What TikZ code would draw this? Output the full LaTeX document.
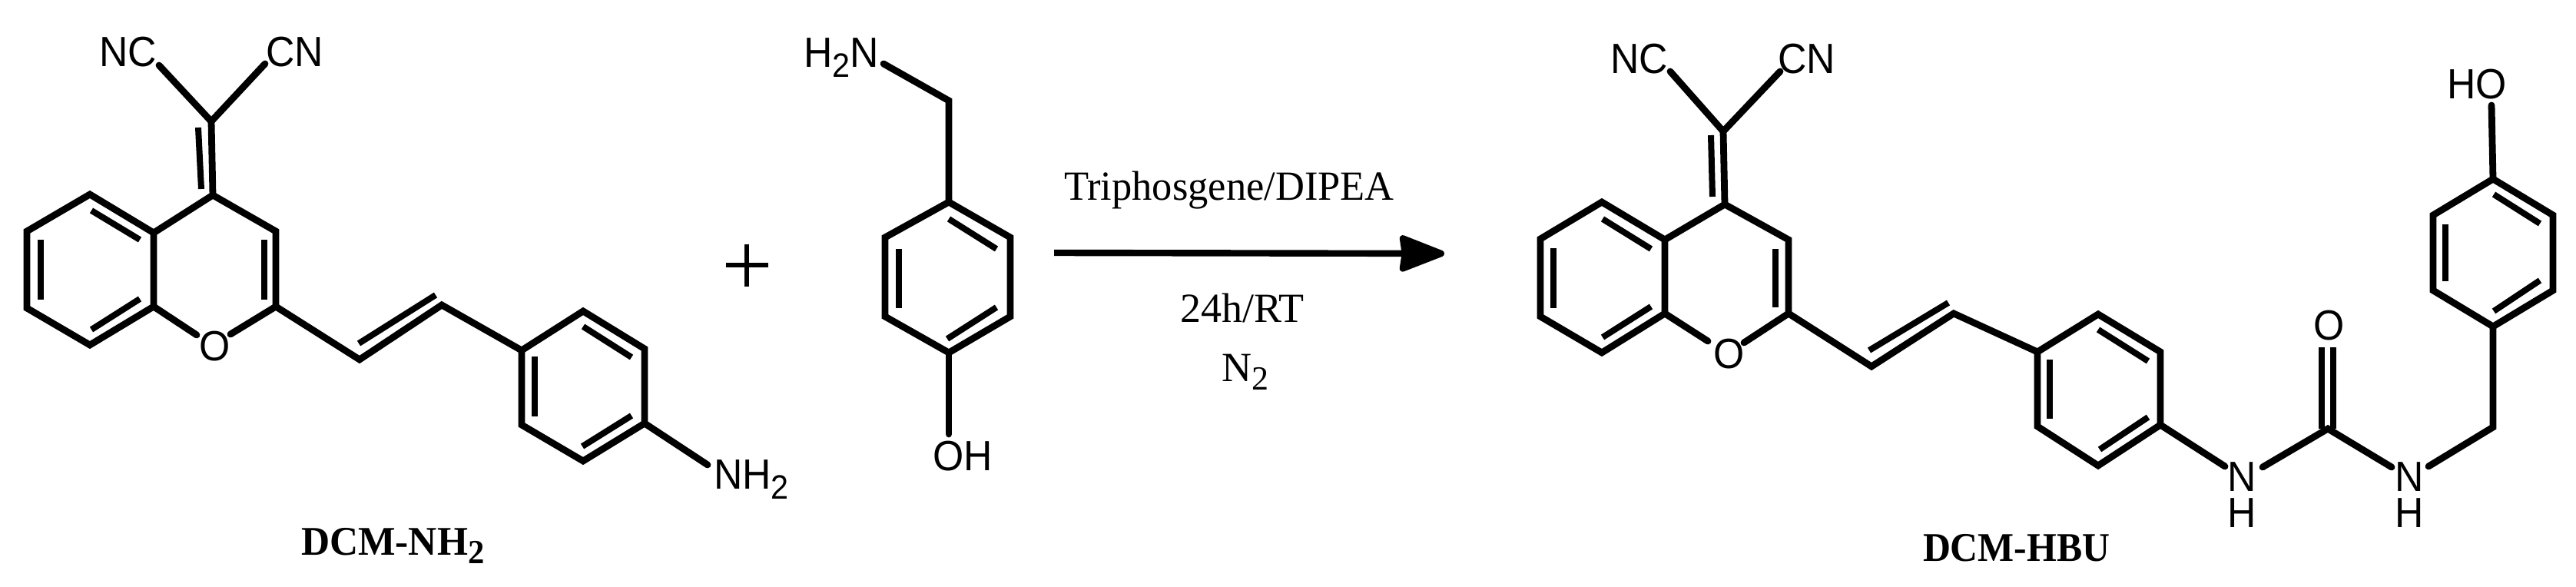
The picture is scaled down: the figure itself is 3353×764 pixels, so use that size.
\documentclass[tikz,border=0pt]{standalone}
\usepackage{fontspec}
\usepackage{graphicx}
\usetikzlibrary{arrows.meta}
\setmainfont{Liberation Serif}
\newfontfamily\labfont{Liberation Sans}
\newcommand\sanstext[1]{\scalebox{.94}[1]{\labfont\fontsize{27.5}{30}\selectfont #1}}
\newcommand\sanssub[1]{\raisebox{-6.5pt}{\scalebox{.94}[1]{\labfont\fontsize{22}{24}\selectfont #1}}}
\newcommand\serifsub[1]{\raisebox{-5.5pt}{\fontsize{22}{24}\selectfont #1}}
\tikzset{
  x=.5pt,y=-.5pt,
  bond/.style={line width=4.4pt,line join=miter,miter limit=10,line cap=round},
  inner bond/.style={line width=4pt,line cap=butt},
  atom/.style={anchor=base west,inner sep=0pt,outer sep=0pt},
  caption/.style={anchor=base west,inner sep=0pt,outer sep=0pt,font=\fontsize{26.5}{30}\selectfont\bfseries},
  cond/.style={anchor=base west,inner sep=0pt,outer sep=0pt,font=\fontsize{27}{30}\selectfont},
}
\begin{document}
\begin{tikzpicture}
\useasboundingbox (0,0) rectangle (3353,764);
\fill[white] (0,0) rectangle (3353,764);

% ---------- left molecule: DCM-NH2
\foreach \n/\x/\y in {
  a1/117/253,a2/200/303,a3/200/399,a4/117/449,a5/35/401,a6/35/301,
  c4/277/254,c3/359/301,c2/359/399,cx/275/158,
  oa/256/436,ob/300/435,
  v1/468/468,v2/575/397,
  b1/679/456,b2/759/405,b3/839/454,b4/839/551,b5/759/600,b6/679/553,
  ncl/207/85,ncr/345/83,nh/921/605,
  ia1/119/274,ia2/182/312,ia3/53/312,ia4/53/390,ia5/119/429,ia6/182/389,
  ic1/344/312,ic2/344/390,ix1/258/166,ix2/262/246,
  iv1/467/447,iv2/567/384,
  ib1/696/464,ib2/696/542,ib3/759/425,ib4/822/465,ib5/822/541,ib6/758/581
}{\coordinate (\n) at (\x,\y);}
\draw[bond] (a1)--(a2)--(a3)--(a4)--(a5)--(a6)--cycle;
\draw[bond] (a2)--(c4)--(c3)--(c2)--(ob);
\draw[bond] (a3)--(oa);
\draw[bond] (c4)--(cx);
\draw[bond] (ncl)--(cx)--(ncr);
\draw[bond] (c2)--(v1)--(v2)--(b1);
\draw[bond] (b1)--(b2)--(b3)--(b4)--(b5)--(b6)--cycle;
\draw[bond] (b4)--(nh);
\foreach \p/\q in {ia1/ia2,ia3/ia4,ia5/ia6,ic1/ic2,ix1/ix2,iv1/iv2,ib1/ib2,ib3/ib4,ib5/ib6}
  \draw[inner bond] (\p)--(\q);
\node[atom] (lNC) at (129,87) {\sanstext{NC}};
\node[atom] (lCN) at (346,87) {\sanstext{CN}};
\node[atom] (lO) at (259,470) {\sanstext{O}};
\node[atom] (lNH) at (929,636) {\sanstext{NH}\sanssub{2}};
\node[caption] (capA) at (392,722) {\scalebox{.97}[1]{DCM-NH\serifsub{\bfseries 2}}};

% plus
\coordinate (pl) at (945,345); \coordinate (pr) at (1000,345);
\coordinate (pt) at (972,318); \coordinate (pb) at (972,373);
\draw[line width=3.4pt] (pl)--(pr);
\draw[line width=2.8pt] (pt)--(pb);

% ---------- middle molecule
\foreach \n/\x/\y in {
  m1/1235/263,m2/1315/309,m3/1315/412,m4/1235/459,m5/1152/412,m6/1152/309,
  mc/1235/131,mn/1150/83,mo/1235/565,
  im1/1235/285,im2/1297/324,im3/1170/324,im4/1170/401,im5/1297/400,im6/1233/441
}{\coordinate (\n) at (\x,\y);}
\draw[bond] (m1)--(m2)--(m3)--(m4)--(m5)--(m6)--cycle;
\draw[bond] (mn)--(mc)--(m1);
\draw[bond] (m4)--(mo);
\foreach \p/\q in {im1/im2,im3/im4,im5/im6}
  \draw[inner bond] (\p)--(\q);
\node[atom] (mNH) at (1046,88) {\sanstext{H}\sanssub{2}\sanstext{N}};
\node[atom] (mOH) at (1214,612) {\sanstext{OH}};

% ---------- arrow and conditions
\coordinate (as) at (1372,329); \coordinate (ae) at (1880,330);
\draw[line width=4.2pt,-{Stealth[length=33pt,width=25pt,inset=1.5pt,round]}] (as)--(ae);
\node[cond] (t1) at (1385,261) {\scalebox{.972}[1]{Triphosgene/DIPEA}};
\node[cond] (t2) at (1536,420) {24h/RT};
\node[cond] (t3) at (1590,497) {N\serifsub{2}};

% ---------- right molecule: DCM-HBU
\foreach \n/\x/\y in {
  A1/2085/263,A2/2167/312,A3/2167/408,A4/2085/459,A5/2005/412,A6/2005/311,
  C4/2245/266,C3/2328/312,C2/2328/408,CX/2243/171,
  OA/2223/444,OB/2270/446,
  V1/2436/477,V2/2543/408,
  B1/2652/458,B2/2731/409,B3/2812/458,B4/2812/553,B5/2731/606,B6/2652/555,
  NCL/2174/93,NCR/2317/93,
  N1a/2896/607,N1b/2945/608,U/3030/558,N2a/3113/608,N2b/3161/607,
  UOl/3022/452,UOr/3037/452,Ul/3022/558,Ur/3037/558,
  CH/3245/556,
  R1/3245/425,R2/3323/378,R3/3323/280,R4/3245/233,R5/3167/280,R6/3167/378,
  HOe/3243/137,
  IA1/2086/285,IA2/2149/324,IA3/2022/323,IA4/2022/401,IA5/2086/439,IA6/2149/399,
  IC1/2311/324,IC2/2311/400,IX1/2227/176,IX2/2229/256,
  IV1/2433/456,IV2/2536/394,
  IB1/2668/468,IB2/2668/545,IB3/2731/429,IB4/2796/470,IB5/2796/543,IB6/2733/585,
  IR1/3306/291,IR2/3246/253,IR3/3183/292,IR4/3183/366,IR5/3306/365,IR6/3246/405
}{\coordinate (\n) at (\x,\y);}
\draw[bond] (A1)--(A2)--(A3)--(A4)--(A5)--(A6)--cycle;
\draw[bond] (A2)--(C4)--(C3)--(C2)--(OB);
\draw[bond] (A3)--(OA);
\draw[bond] (C4)--(CX);
\draw[bond] (NCL)--(CX)--(NCR);
\draw[bond] (C2)--(V1)--(V2)--(B1);
\draw[bond] (B1)--(B2)--(B3)--(B4)--(B5)--(B6)--cycle;
\draw[bond] (B4)--(N1a);
\draw[bond] (N1b)--(U)--(N2a);
\draw[bond] (N2b)--(CH)--(R1);
\draw[bond] (R1)--(R2)--(R3)--(R4)--(R5)--(R6)--cycle;
\draw[bond] (R4)--(HOe);
\draw[inner bond] (Ul)--(UOl);
\draw[inner bond] (Ur)--(UOr);
\foreach \p/\q in {IA1/IA2,IA3/IA4,IA5/IA6,IC1/IC2,IX1/IX2,IV1/IV2,IB1/IB2,IB3/IB4,IB5/IB6,IR1/IR2,IR3/IR4,IR5/IR6}
  \draw[inner bond] (\p)--(\q);
\node[atom] (rNC) at (2096,96) {\sanstext{NC}};
\node[atom] (rCN) at (2314,96) {\sanstext{CN}};
\node[atom] (rO) at (2230,480) {\sanstext{O}};
\node[atom] (rOt) at (3011,443) {\sanstext{O}};
\node[atom] (rHO) at (3185,129) {\sanstext{HO}};
\node[atom] (rN1) at (2899,639) {\sanstext{N}};
\node[atom] (rH1) at (2899,686) {\sanstext{H}};
\node[atom] (rN2) at (3117,639) {\sanstext{N}};
\node[atom] (rH2) at (3117,686) {\sanstext{H}};
\node[caption] (capB) at (2503,730) {\scalebox{.94}[1]{DCM-HBU}};
\end{tikzpicture}
\end{document}
